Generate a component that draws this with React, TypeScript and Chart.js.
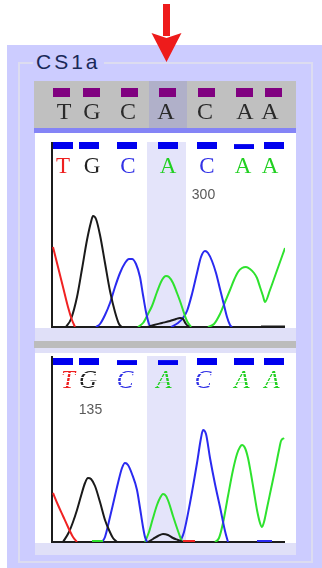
import React, { useEffect, useRef } from "react";
import { Chart, registerables } from "chart.js";
Chart.register(...registerables);

type Pt = [number, number];

// ---- base calls ----
const bases = ["T", "G", "C", "A", "C", "A", "A"];
const headerSquareX = [9.5, 39.5, 77.5, 115.5, 154, 192, 221];
const headerLetterX = [12, 40, 76, 114, 153, 193, 218];
const headerHighlight = [97, 135];
const plotHighlight = [95, 134];

const topBarX = [10.5, 36.5, 75, 115.5, 154.5, 192, 221.5];
const topBarQuality = [40, 40, 40, 40, 40, 28, 40];
const topLetterX = [11, 40, 76, 116, 155, 191, 218];
const topScanText = "300";
const topScanX = 151.5;

const bottomBarX = [10.5, 36.5, 75, 115.5, 154.5, 192, 221.5];
const bottomBarQuality = [40, 40, 28, 28, 40, 40, 40];
const bottomLetterX = [16, 36, 73, 112, 151, 190, 220];
const bottomScanText = "135";
const bottomScanX = 38.5;

// ---- top trace (x: scan offset, y: signal) ----
const topT: Pt[] = [[1, 80], [6, 60], [11, 40], [16, 20], [20, 7], [23, 0]];
const topG: Pt[] = [[14, 0], [19, 8], [25, 30], [30, 58], [35, 87], [39, 105], [41, 111], [44, 108], [48, 92], [53, 64], [58, 36], [63, 15], [67, 3], [70, 0]];
const topGHump: Pt[] = [[96, 0], [102, 2], [110, 4], [118, 6], [124, 8], [128, 9], [131, 8], [134, 3], [137, 0]];
const topGTail: Pt[] = [[209, 0.5], [233, 0.5]];
const topC1: Pt[] = [[44, 0], [48, 3], [53, 12], [58, 24], [63, 40], [68, 54], [73, 64], [77, 68], [80, 68], [84, 63], [88, 50], [91, 32], [94, 15], [97, 3], [99, 0]];
const topA1: Pt[] = [[86, 0], [91, 4], [96, 13], [100, 21], [105, 35], [110, 47], [114, 51], [117, 50], [121, 44], [125, 34], [128, 26], [132, 14], [135, 6], [139, 0]];
const topC2: Pt[] = [[119, 0], [126, 4], [131, 9], [135, 16], [140, 33], [145, 54], [149, 70], [153, 76], [156, 74], [160, 66], [164, 54], [168, 38], [172, 22], [175, 10], [178, 2], [180, 0]];
const topA2: Pt[] = [[156, 0], [162, 3], [168, 13], [173, 25], [178, 37], [182, 47], [186, 55], [190, 59], [194, 60], [198, 58], [202, 54], [205, 49], [208, 40], [211, 31], [213, 25], [218, 37], [223, 51], [228, 65], [233, 79]];

// ---- bottom trace ----
const botT: Pt[] = [[1, 49], [6, 37], [11, 26], [16, 15], [21, 5], [25, 0]];
const botTTail: Pt[] = [[131, 1], [143, 1]];
const botG: Pt[] = [[11, 0], [17, 10], [21, 20], [25, 32], [29, 46], [33, 59], [36, 64], [39, 63], [43, 56], [48, 40], [53, 22], [57, 12], [61, 4], [65, 0]];
const botGHump: Pt[] = [[96, 0], [101, 3], [106, 6], [111, 8], [116, 7], [121, 4], [126, 2], [131, 0]];
const botAShort: Pt[] = [[40, 1], [51, 1]];
const botC1: Pt[] = [[50, 0], [53, 5], [58, 25], [62, 42], [66, 59], [70, 74], [73, 79], [76, 77], [80, 68], [85, 52], [88, 34], [91, 15], [93, 5], [95, 0]];
const botA1: Pt[] = [[93, 0], [97, 10], [101, 24], [105, 37], [108, 44], [111, 48], [114, 46], [117, 39], [121, 26], [126, 11], [130, 0]];
const botC2: Pt[] = [[128, 0], [132, 10], [138, 39], [145, 79], [149, 104], [151, 112], [154, 108], [158, 84], [163, 58], [168, 35], [173, 11], [176, 0]];
const botA2: Pt[] = [[163, 0], [167, 4], [171, 19], [176, 46], [181, 72], [185, 88], [188, 95], [190, 97], [193, 94], [196, 84], [199, 68], [202, 50], [205, 32], [208, 19], [210, 15], [212, 20], [215, 34], [219, 53], [223, 72], [227, 92], [229, 101], [232, 104]];
const botCTail: Pt[] = [[205, 1], [220, 1]];

const TRACE: Record<string, string> = { A: "#2ee22e", C: "#2a2af0", G: "#1a1a1a", T: "#f02222" };
const LETTER: Record<string, string> = { A: "#22d022", C: "#3232e6", G: "#222222", T: "#ee2020" };

function ds(points: Pt[], base: string) {
  return {
    data: points.map(([x, y]) => ({ x, y })),
    borderColor: TRACE[base],
    borderWidth: 2,
    pointRadius: 0,
    fill: false,
    cubicInterpolationMode: "monotone",
  };
}

function brokenLetter(ctx: CanvasRenderingContext2D, ch: string, x: number, y: number, color: string, font: string) {
  const off = document.createElement("canvas");
  off.width = 44;
  off.height = 44;
  const o = off.getContext("2d")!;
  o.font = font;
  o.fillStyle = color;
  o.textAlign = "center";
  o.textBaseline = "alphabetic";
  o.fillText(ch, 22, 32);
  o.globalCompositeOperation = "destination-out";
  for (let yy = 1; yy < 44; yy += 4) o.fillRect(0, yy, 44, 1);
  ctx.drawImage(off, Math.round(x - 22), Math.round(y - 32));
}

function plotDecor(chart: any, cfg: any) {
  const { ctx, chartArea } = chart;
  const xs = chart.scales.x;
  const ys = chart.scales.y;
  ctx.save();
  const h0 = xs.getPixelForValue(plotHighlight[0]);
  const h1 = xs.getPixelForValue(plotHighlight[1]);
  ctx.fillStyle = "#e4e4fa";
  ctx.fillRect(h0, chartArea.top, h1 - h0, chartArea.bottom - chartArea.top);
  // quality bars
  ctx.fillStyle = "#0000ee";
  const bb = ys.getPixelForValue(cfg.barBase);
  cfg.barX.forEach((v: number, i: number) => {
    const h = (cfg.barQ[i] / 40) * 7;
    const px = xs.getPixelForValue(v);
    ctx.fillRect(Math.round(px - 10), bb - h, 20, h);
  });
  // letters
  const lb = ys.getPixelForValue(154);
  bases.forEach((b, i) => {
    const px = xs.getPixelForValue(cfg.letterX[i]);
    if (cfg.broken) {
      brokenLetter(ctx, b, px, lb, LETTER[b], "italic 25px 'Liberation Serif', serif");
    } else {
      ctx.font = "23px 'Liberation Serif', serif";
      ctx.fillStyle = LETTER[b];
      ctx.textAlign = "center";
      ctx.textBaseline = "alphabetic";
      ctx.fillText(b, px, lb);
    }
  });
  // scan label
  ctx.font = "14px 'Liberation Sans', sans-serif";
  ctx.fillStyle = "#5a5a5a";
  ctx.textAlign = "center";
  ctx.textBaseline = "middle";
  ctx.fillText(cfg.scanText, xs.getPixelForValue(cfg.scanX), ys.getPixelForValue(132));
  // axes
  ctx.fillStyle = "#1c1c1c";
  ctx.fillRect(chartArea.left - 1, chartArea.top, 2, chartArea.bottom - chartArea.top + 1);
  ctx.fillRect(chartArea.left - 1, chartArea.bottom - 1, chartArea.right - chartArea.left + 1, 2);
  ctx.restore();
}

const topPlugin = {
  id: "topDecor",
  beforeDraw(chart: any) {
    const { ctx, width } = chart;
    const xs = chart.scales.x;
    ctx.save();
    ctx.fillStyle = "#c0c0c0";
    ctx.fillRect(0, 0, width, 47);
    const h0 = xs.getPixelForValue(headerHighlight[0]);
    const h1 = xs.getPixelForValue(headerHighlight[1]);
    ctx.fillStyle = "#b0b0c9";
    ctx.fillRect(h0, 0, h1 - h0, 47);
    ctx.fillStyle = "#8484f6";
    ctx.fillRect(0, 47, width, 5);
    ctx.fillStyle = "#800080";
    headerSquareX.forEach((v) => {
      const px = xs.getPixelForValue(v);
      ctx.fillRect(Math.round(px - 8.5), 7, 17, 9);
    });
    ctx.fillStyle = "#2a2a2a";
    ctx.font = "24px 'Liberation Serif', serif";
    ctx.textAlign = "center";
    ctx.textBaseline = "alphabetic";
    bases.forEach((b, i) => ctx.fillText(b, xs.getPixelForValue(headerLetterX[i]), 38));
    ctx.fillStyle = "#ffffff";
    ctx.fillRect(1, 52, width - 1, 195);
    ctx.restore();
  },
  beforeDatasetsDraw(chart: any) {
    plotDecor(chart, { barX: topBarX, barQ: topBarQuality, barBase: 178, letterX: topLetterX, broken: false, scanText: topScanText, scanX: topScanX });
  },
};

const bottomPlugin = {
  id: "bottomDecor",
  beforeDraw(chart: any) {
    const { ctx, width } = chart;
    ctx.save();
    ctx.fillStyle = "#bcbcbc";
    ctx.fillRect(0, 0, width, 7);
    ctx.fillStyle = "#ffffff";
    ctx.fillRect(1, 12, width - 1, 190);
    ctx.restore();
  },
  beforeDatasetsDraw(chart: any) {
    plotDecor(chart, { barX: bottomBarX, barQ: bottomBarQuality, barBase: 177, letterX: bottomLetterX, broken: true, scanText: bottomScanText, scanX: bottomScanX });
  },
};

function makeChart(canvas: HTMLCanvasElement, datasets: any[], yMax: number, padding: any, plugin: any) {
  return new Chart(canvas, {
    type: "line",
    data: { datasets },
    options: {
      responsive: false,
      animation: false,
      devicePixelRatio: 1,
      events: [],
      layout: { padding },
      plugins: { legend: { display: false }, tooltip: { enabled: false } },
      scales: {
        x: { type: "linear", min: 0, max: 233, display: false },
        y: { type: "linear", min: 0, max: yMax, display: false },
      },
    } as any,
    plugins: [plugin],
  });
}

export default function App() {
  const topRef = useRef<HTMLCanvasElement>(null);
  const botRef = useRef<HTMLCanvasElement>(null);

  useEffect(() => {
    const c1 = makeChart(
      topRef.current!,
      [ds(topT, "T"), ds(topG, "G"), ds(topGHump, "G"), ds(topGTail, "G"), ds(topC1, "C"), ds(topA1, "A"), ds(topC2, "C"), ds(topA2, "A")],
      185,
      { left: 18, right: 11, top: 61, bottom: 2 },
      topPlugin
    );
    const c2 = makeChart(
      botRef.current!,
      [ds(botT, "T"), ds(botTTail, "T"), ds(botAShort, "A"), ds(botG, "G"), ds(botGHump, "G"), ds(botC1, "C"), ds(botA1, "A"), ds(botC2, "C"), ds(botA2, "A"), ds(botCTail, "C")],
      186,
      { left: 18, right: 11, top: 15, bottom: 3 },
      bottomPlugin
    );
    return () => {
      c1.destroy();
      c2.destroy();
    };
  }, []);

  return (
    <div style={{ position: "absolute", left: 0, top: 0, width: 322, height: 568, background: "#ffffff", overflow: "hidden" }}>
      <div style={{ position: "absolute", left: 7, top: 45, width: 315, height: 523, background: "#ccccff" }} />
      <div style={{ position: "absolute", left: 18, top: 62, width: 295, height: 501, boxSizing: "border-box", border: "2px solid #dcdcf0" }} />
      <div
        style={{
          position: "absolute",
          left: 33,
          top: 49,
          padding: "0 3px",
          background: "#ccccff",
          fontFamily: "'Liberation Sans', Arial, sans-serif",
          fontSize: 21,
          lineHeight: "25px",
          letterSpacing: 3,
          color: "#1a2958",
        }}
      >
        CS1a
      </div>
      <div style={{ position: "absolute", left: 35, top: 128, width: 261, height: 427, background: "#e0e0f8" }} />
      <canvas ref={topRef} width={262} height={248} style={{ position: "absolute", left: 34, top: 81, width: 262, height: 248 }} />
      <canvas ref={botRef} width={262} height={204} style={{ position: "absolute", left: 34, top: 341, width: 262, height: 204 }} />
      <svg width={322} height={70} style={{ position: "absolute", left: 0, top: 0 }}>
        <rect x={163} y={4} width={7} height={32} fill="#ee1b1b" />
        <polygon points="151.5,33 166.5,38 181.5,33 166.5,62" fill="#ee1b1b" />
      </svg>
    </div>
  );
}
